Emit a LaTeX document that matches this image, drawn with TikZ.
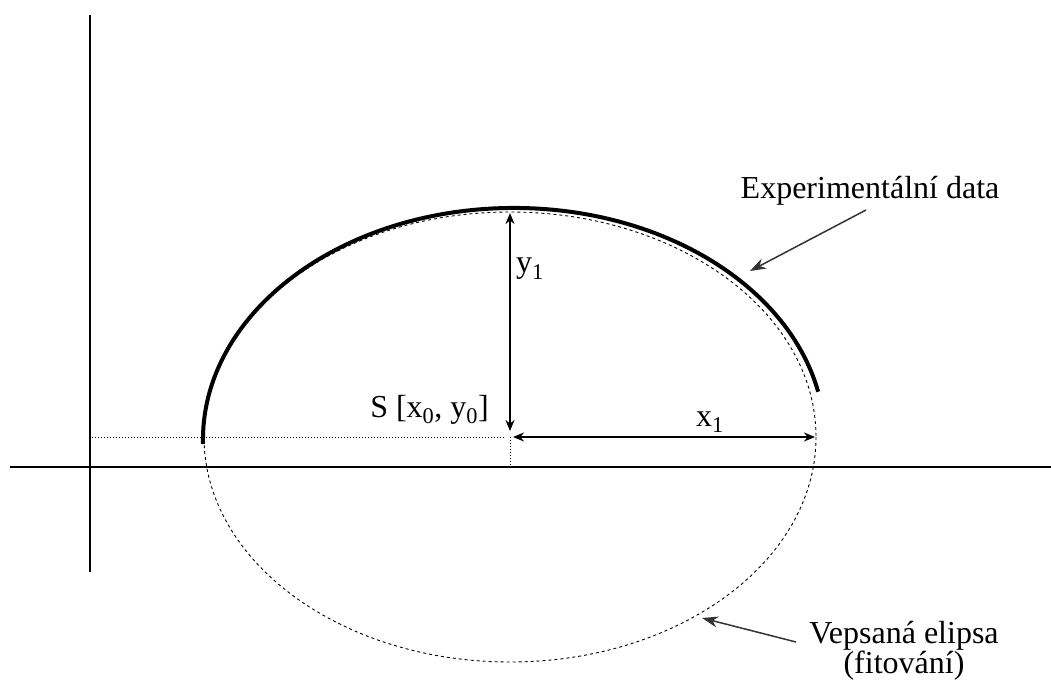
\documentclass[tikz,border=0pt]{standalone}
\usepackage{fontspec}
\setmainfont{Liberation Serif}
\usetikzlibrary{arrows.meta}
\tikzset{
  axis/.style={line width=1.3pt},
  fitted/.style={line width=0.9pt, dash pattern=on 3pt off 3pt},
  data/.style={line width=4pt},
  guide/.style={line width=0.9pt, dash pattern=on 1.2pt off 1.8pt},
  dim/.style={line width=2.2pt, {Stealth[length=11pt,width=9pt]}-{Stealth[length=11pt,width=9pt]}},
  pointer/.style={line width=1.5pt, draw=black!80, -{Stealth[length=16pt,width=11pt]}},
  lbl/.style={font=\fontsize{32}{34}\selectfont, inner sep=0pt}
}
\begin{document}
\begin{tikzpicture}[x=1pt,y=-1pt]
\useasboundingbox (0,0) rectangle (1051,688);
% axes
\coordinate (hx0) at (10,467); \coordinate (hx1) at (1051,467);
\coordinate (vy0) at (90,15); \coordinate (vy1) at (90,572);
\draw[axis] (hx0) -- (hx1);
\draw[axis] (vy0) -- (vy1);
% centre
\coordinate (S) at (510,437);
% fitted ellipse
\draw[fitted] (S) ellipse [x radius=306, y radius=225];
% experimental data arc
\draw[data] (203,444) arc[start angle=181, end angle=12, x radius=311, y radius=-232];
% guide lines
\coordinate (gl) at (92,437); \coordinate (gd) at (510,467);
\draw[guide] (gl) -- (505,437);
\draw[guide] (S) -- (gd);
% dimension arrows
\coordinate (top) at (510,213); \coordinate (right) at (815,437);
\draw[dim] (top) -- (510,431);
\draw[dim] (513,437) -- (right);
% labels
\node[lbl, anchor=west] (y1) at (516,269) {y\textsubscript{1}};
\node[lbl] (x1) at (710,422) {x\textsubscript{1}};
\node[lbl, anchor=east] (sl) at (489,410) {S [x\textsubscript{0}, y\textsubscript{0}]};
\node[lbl] (exp) at (870,191) {Experimentální data};
\node[lbl, align=center, font=\fontsize{32}{29}\selectfont] (vep) at (904,651) {Vepsaná elipsa\\(fitování)};
\coordinate (expT) at (750,271);
\coordinate (vepT) at (702,618);
\draw[pointer] (866,210) -- (expT);
\draw[pointer] (796,642) -- (vepT);
\end{tikzpicture}
\end{document}
